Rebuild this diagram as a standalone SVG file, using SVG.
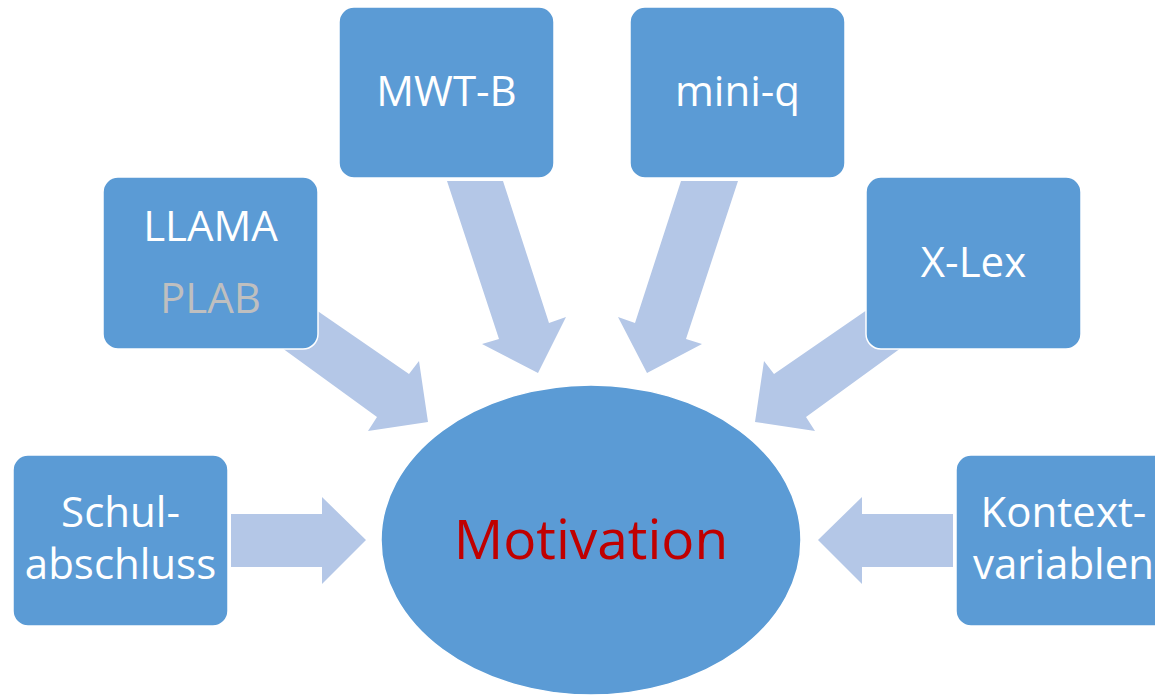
<svg xmlns="http://www.w3.org/2000/svg" width="1155" height="695" viewBox="0 0 1155 695">
<style>
.box{fill:#5B9BD5;stroke:#FFFFFF;stroke-width:1.5}
.arr{fill:#B4C7E7}
.t{font-family:"Open Sans","Liberation Sans",sans-serif;font-size:42px;fill:#FFFFFF;text-anchor:middle}
.g{fill:#BFBFBF}
.m{font-family:"Open Sans","Liberation Sans",sans-serif;font-size:55px;fill:#C00000;text-anchor:middle}
</style>
<rect width="1155" height="695" fill="#FFFFFF"/>
<g id="connectors">
<polygon class="arr" points="231,514 322,514 322,497 366,540 322,584 322,567 231,567"/>
<polygon class="arr" points="953,514 862,514 862,497 818,540 862,584 862,567 953,567"/>
<polygon class="arr" points="447,181 503,181 549,323 566,317 538,373 482,344 499,339"/>
<polygon class="arr" points="738,181 681,181 635,323 618,317 647,373 702,344 686,339"/>
<polygon class="arr" points="290,292 409,374 419,361 428,422 368,431 377,417 260,332"/>
<polygon class="arr" points="893,292 774,374 764,361 755,422 815,431 806,417 923,332"/>
</g>
<g id="motivation">
<ellipse cx="591" cy="540" rx="210" ry="155" fill="#5B9BD5" stroke="#FFFFFF" stroke-width="1.5"/>
<text class="m" x="591" y="559">Motivation</text>
</g>
<g id="mwtb">
<rect class="box" x="339" y="7" width="215" height="171" rx="15"/>
<text class="t" x="446.5" y="106">MWT-B</text>
</g>
<g id="miniq">
<rect class="box" x="630" y="7" width="215" height="171" rx="15"/>
<text class="t" x="737.5" y="106">mini-q</text>
</g>
<g id="llama">
<rect class="box" x="103" y="177" width="215" height="172" rx="15"/>
<text class="t" x="210.5" y="241">LLAMA</text>
<text class="t g" x="210.5" y="313">PLAB</text>
</g>
<g id="xlex">
<rect class="box" x="866" y="177" width="215" height="172" rx="15"/>
<text class="t" x="973.5" y="277">X-Lex</text>
</g>
<g id="schulabschluss">
<rect class="box" x="13" y="455" width="215" height="171" rx="15"/>
<text class="t" x="120.5" y="527">Schul-</text>
<text class="t" x="120.5" y="579">abschluss</text>
</g>
<g id="kontextvariablen">
<rect class="box" x="956" y="455" width="215" height="171" rx="15"/>
<text class="t" x="1063.5" y="527">Kontext-</text>
<text class="t" x="1063.5" y="579">variablen</text>
</g>
</svg>
